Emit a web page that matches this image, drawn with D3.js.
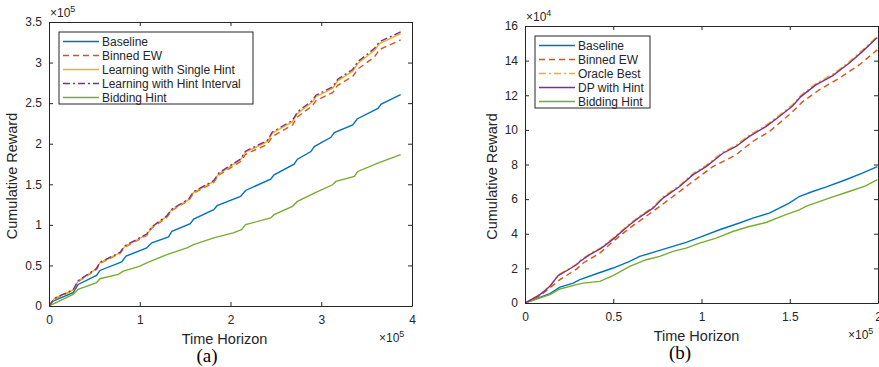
<!DOCTYPE html>
<html>
  <head>
    <script src="https://d3js.org/d3.v7.min.js"></script>
    <style>
      body { margin: 0; background: #fff; }
      text { font-family: "Liberation Sans", Arial, sans-serif; fill: #262626; }
      .axis-label { font-size: 14.5px; text-anchor: middle; }
      .legend text { font-size: 12px; }
      .caption { font-family: "Liberation Serif", "Times New Roman", serif; font-size: 19px; text-anchor: middle; fill: #000; }
    </style>
  </head>
  <body>
    <svg width="879" height="367"></svg>
    <script>
      // ---- panel (a): x in 1e5, y in 1e5
      const aX = [0, 0.063, 0.266, 0.321, 0.524, 0.561, 0.782, 0.838, 1.077, 1.133, 1.299, 1.354, 1.539, 1.594, 1.815, 1.871, 2.111, 2.166, 2.406, 2.461, 2.683, 2.738, 2.904, 2.941, 3.125, 3.181, 3.347, 3.402, 3.587, 3.642, 3.875];
      const aSingle = [0, 0.094, 0.196, 0.307, 0.458, 0.532, 0.655, 0.737, 0.880, 0.970, 1.105, 1.187, 1.310, 1.400, 1.535, 1.629, 1.801, 1.895, 2.026, 2.129, 2.272, 2.374, 2.517, 2.579, 2.681, 2.775, 2.894, 2.988, 3.152, 3.234, 3.357];
      const aInterval = [0, 0.097, 0.200, 0.312, 0.463, 0.538, 0.661, 0.743, 0.887, 0.977, 1.112, 1.195, 1.318, 1.410, 1.545, 1.640, 1.812, 1.908, 2.040, 2.145, 2.288, 2.392, 2.535, 2.598, 2.700, 2.795, 2.915, 3.010, 3.175, 3.257, 3.378];
      const aBinned = [0, 0.090, 0.190, 0.300, 0.450, 0.525, 0.648, 0.728, 0.870, 0.960, 1.095, 1.178, 1.300, 1.390, 1.522, 1.615, 1.780, 1.870, 1.990, 2.090, 2.230, 2.330, 2.470, 2.530, 2.630, 2.720, 2.830, 2.920, 3.070, 3.160, 3.280];
      const aBaseX = [0, 0.044, 0.266, 0.321, 0.524, 0.561, 0.801, 0.849, 1.077, 1.133, 1.317, 1.354, 1.557, 1.594, 1.815, 1.852, 2.111, 2.166, 2.443, 2.480, 2.701, 2.738, 2.886, 2.923, 3.107, 3.144, 3.347, 3.395, 3.624, 3.661, 3.875];
      const aBaseline = [0, 0.061, 0.164, 0.266, 0.377, 0.438, 0.544, 0.614, 0.716, 0.778, 0.851, 0.921, 1.015, 1.072, 1.187, 1.236, 1.351, 1.424, 1.564, 1.617, 1.748, 1.809, 1.903, 1.965, 2.079, 2.137, 2.231, 2.305, 2.436, 2.489, 2.605];
      const aBidX = [0, 0.266, 0.321, 0.524, 0.561, 0.764, 0.819, 1.003, 1.077, 1.299, 1.520, 1.594, 1.815, 2.030, 2.122, 2.166, 2.443, 2.480, 2.683, 2.738, 2.923, 3.125, 3.162, 3.365, 3.402, 3.624, 3.875];
      const aBidding = [0, 0.143, 0.205, 0.287, 0.336, 0.389, 0.430, 0.491, 0.532, 0.634, 0.716, 0.757, 0.839, 0.901, 0.941, 1.003, 1.085, 1.126, 1.228, 1.289, 1.392, 1.494, 1.535, 1.596, 1.658, 1.760, 1.865];

      // ---- panel (b): x in 1e5, y in 1e4
      const bTopX = [0, 0.085, 0.141, 0.188, 0.245, 0.292, 0.311, 0.367, 0.433, 0.499, 0.593, 0.650, 0.725, 0.782, 0.876, 0.951, 1.026, 1.121, 1.196, 1.271, 1.365, 1.441, 1.516, 1.563, 1.648, 1.742, 1.836, 1.911, 1.996];
      const bDP = [0, 0.48, 0.96, 1.58, 1.92, 2.21, 2.40, 2.79, 3.17, 3.69, 4.52, 4.96, 5.48, 6.06, 6.73, 7.40, 7.88, 8.65, 9.04, 9.62, 10.19, 10.77, 11.38, 11.92, 12.60, 13.12, 13.85, 14.52, 15.33];
      const bOracle = [0, 0.50, 0.99, 1.62, 1.96, 2.25, 2.45, 2.84, 3.22, 3.75, 4.58, 5.02, 5.55, 6.13, 6.80, 7.47, 7.95, 8.72, 9.12, 9.70, 10.27, 10.85, 11.46, 12.00, 12.68, 13.20, 13.93, 14.60, 15.41];
      const bBinX = [0, 0.085, 0.198, 0.292, 0.330, 0.424, 0.499, 0.593, 0.725, 0.838, 0.951, 1.064, 1.196, 1.290, 1.384, 1.497, 1.573, 1.667, 1.780, 1.893, 1.996];
      const bBinned = [0, 0.42, 1.35, 1.96, 2.31, 2.88, 3.56, 4.33, 5.29, 6.15, 7.02, 7.88, 8.56, 9.33, 9.90, 10.87, 11.63, 12.31, 12.98, 13.75, 14.62];
      const bBaseX = [0, 0.141, 0.198, 0.273, 0.311, 0.405, 0.499, 0.593, 0.650, 0.744, 0.838, 0.913, 0.989, 1.102, 1.215, 1.290, 1.384, 1.497, 1.554, 1.629, 1.704, 1.817, 1.911, 1.996];
      const bBaseline = [0, 0.54, 0.92, 1.15, 1.35, 1.69, 2.02, 2.40, 2.69, 2.98, 3.27, 3.50, 3.79, 4.23, 4.62, 4.90, 5.19, 5.77, 6.15, 6.44, 6.69, 7.12, 7.50, 7.88];
      const bBidX = [0, 0.141, 0.198, 0.292, 0.330, 0.424, 0.499, 0.593, 0.687, 0.763, 0.838, 0.913, 0.989, 1.083, 1.177, 1.271, 1.365, 1.478, 1.554, 1.591, 1.723, 1.836, 1.930, 1.996];
      const bBidding = [0, 0.48, 0.81, 1.06, 1.15, 1.25, 1.58, 2.12, 2.50, 2.69, 2.98, 3.17, 3.46, 3.75, 4.13, 4.42, 4.65, 5.10, 5.38, 5.58, 6.06, 6.44, 6.77, 7.12];

      const aYTicks = [0, 0.5, 1, 1.5, 2, 2.5, 3, 3.5];
      const aXTicks = [0, 1, 2, 3, 4];
      const bYTicks = [0, 2, 4, 6, 8, 10, 12, 14, 16];
      const bXTicks = [0, 0.5, 1, 1.5, 2];

      const colors = {blue: "#0072BD", orange: "#D95319", yellow: "#EDB120", purple: "#7E2F8E", green: "#77AC30"};
      const svg = d3.select("svg");

      function drawPanel(p) {
        const x = d3.scaleLinear().domain(p.xDomain).range([p.left, p.right]);
        const y = d3.scaleLinear().domain(p.yDomain).range([p.bottom, p.top]);
        const g = svg.append("g");

        const clipId = "clip-" + p.name;
        g.append("clipPath").attr("id", clipId)
          .append("rect").attr("x", p.left).attr("y", p.top)
          .attr("width", p.right - p.left).attr("height", p.bottom - p.top);

        // series
        const line = d3.line().x(d => x(d[0])).y(d => y(d[1]));
        const lines = g.append("g").attr("clip-path", `url(#${clipId})`);
        p.series.forEach(s => {
          lines.append("path")
            .datum(s.xs.map((v, i) => [v, s.ys[i]]))
            .attr("d", line)
            .attr("fill", "none")
            .attr("stroke", s.color)
            .attr("stroke-width", 1.4)
            .attr("stroke-dasharray", s.dash || null);
        });

        // box + inward ticks (MATLAB style)
        const axes = [
          {axis: d3.axisBottom(x), t: `translate(0,${p.bottom})`, labels: true},
          {axis: d3.axisTop(x), t: `translate(0,${p.top})`, labels: false},
          {axis: d3.axisLeft(y), t: `translate(${p.left},0)`, labels: true},
          {axis: d3.axisRight(y), t: `translate(${p.right},0)`, labels: false}
        ];
        axes.forEach((a, i) => {
          const horizontal = i < 2;
          a.axis.tickValues(horizontal ? p.xTicks : p.yTicks)
            .tickSizeInner(-4).tickSizeOuter(0)
            .tickPadding(horizontal ? 9 : 7)
            .tickFormat(a.labels ? d3.format("") : "");
          const ag = g.append("g").attr("transform", a.t).call(a.axis);
          ag.selectAll("path.domain").attr("stroke", "#262626").attr("stroke-width", 1);
          ag.selectAll(".tick line").attr("stroke", "#262626");
          ag.selectAll(".tick text")
            .attr("fill", "#262626")
            .style("font-family", "'Liberation Sans', Arial, sans-serif")
            .style("font-size", "12px");
        });

        // axis labels
        g.append("text").attr("class", "axis-label")
          .attr("x", (p.left + p.right) / 2 + p.xLabelShift).attr("y", p.bottom + 38)
          .text("Time Horizon");
        g.append("text").attr("class", "axis-label")
          .attr("transform", `translate(${p.yLabelX},${(p.top + p.bottom) / 2 + 12}) rotate(-90)`)
          .text("Cumulative Reward");

        // exponents
        const ex = g.append("text").attr("x", p.left + 1).attr("y", p.top - 5).style("font-size", "12px");
        ex.append("tspan").text("\u00d710");
        ex.append("tspan").attr("dy", -5).style("font-size", "9px").text(p.yExp);
        const ex2 = g.append("text").attr("x", p.xExpX).attr("y", p.bottom + 36).style("font-size", "12px");
        ex2.append("tspan").text("\u00d710");
        ex2.append("tspan").attr("dy", -5).style("font-size", "9px").text(p.xExp);

        // caption
        g.append("text").attr("class", "caption")
          .attr("x", p.captionX).attr("y", p.bottom + 56).text(p.caption);

        // legend
        const lg = g.append("g").attr("class", "legend");
        lg.append("rect")
          .attr("x", p.legend.x).attr("y", p.legend.y)
          .attr("width", p.legend.w).attr("height", p.legend.h)
          .attr("fill", "#fff").attr("stroke", "#262626").attr("stroke-width", 1);
        p.series.slice().sort((a, b) => a.order - b.order).forEach((s, i) => {
          const yy = p.legend.y + 9.5 + i * 14;
          lg.append("line")
            .attr("x1", p.legend.x + 4).attr("x2", p.legend.x + 40)
            .attr("y1", yy).attr("y2", yy)
            .attr("stroke", s.color).attr("stroke-width", 1.4)
            .attr("stroke-dasharray", s.dash || null);
          lg.append("text")
            .attr("x", p.legend.x + 43).attr("y", yy + 4.5)
            .text(s.name);
        });
      }

      drawPanel({
        name: "a", left: 49, right: 412, top: 22, bottom: 306,
        xDomain: [0, 4], yDomain: [0, 3.5], xTicks: aXTicks, yTicks: aYTicks,
        yExp: "5", xExp: "5", xExpX: 379, yLabelX: 17, xLabelShift: -6,
        caption: "(a)", captionX: 207,
        legend: {x: 59, y: 32, w: 194, h: 72},
        series: [
          {name: "Baseline", order: 0, xs: aBaseX, ys: aBaseline, color: colors.blue},
          {name: "Bidding Hint", order: 4, xs: aBidX, ys: aBidding, color: colors.green},
          {name: "Binned EW", order: 1, xs: aX, ys: aBinned, color: colors.orange, dash: "6,4"},
          {name: "Learning with Single Hint", order: 2, xs: aX, ys: aSingle, color: colors.yellow},
          {name: "Learning with Hint Interval", order: 3, xs: aX, ys: aInterval, color: colors.purple, dash: "7,3,2,3"}
        ]
      });

      drawPanel({
        name: "b", left: 525, right: 878, top: 26, bottom: 303,
        xDomain: [0, 2], yDomain: [0, 16], xTicks: bXTicks, yTicks: bYTicks,
        yExp: "4", xExp: "5", xExpX: 848, yLabelX: 497, xLabelShift: -5,
        caption: "(b)", captionX: 680,
        legend: {x: 535, y: 36, w: 115, h: 72},
        series: [
          {name: "Baseline", order: 0, xs: bBaseX, ys: bBaseline, color: colors.blue},
          {name: "Bidding Hint", order: 4, xs: bBidX, ys: bBidding, color: colors.green},
          {name: "Binned EW", order: 1, xs: bBinX, ys: bBinned, color: colors.orange, dash: "6,4"},
          {name: "Oracle Best", order: 2, xs: bTopX, ys: bOracle, color: colors.yellow, dash: "7,3,2,3"},
          {name: "DP with Hint", order: 3, xs: bTopX, ys: bDP, color: colors.purple}
        ]
      });
    </script>
  </body>
</html>
